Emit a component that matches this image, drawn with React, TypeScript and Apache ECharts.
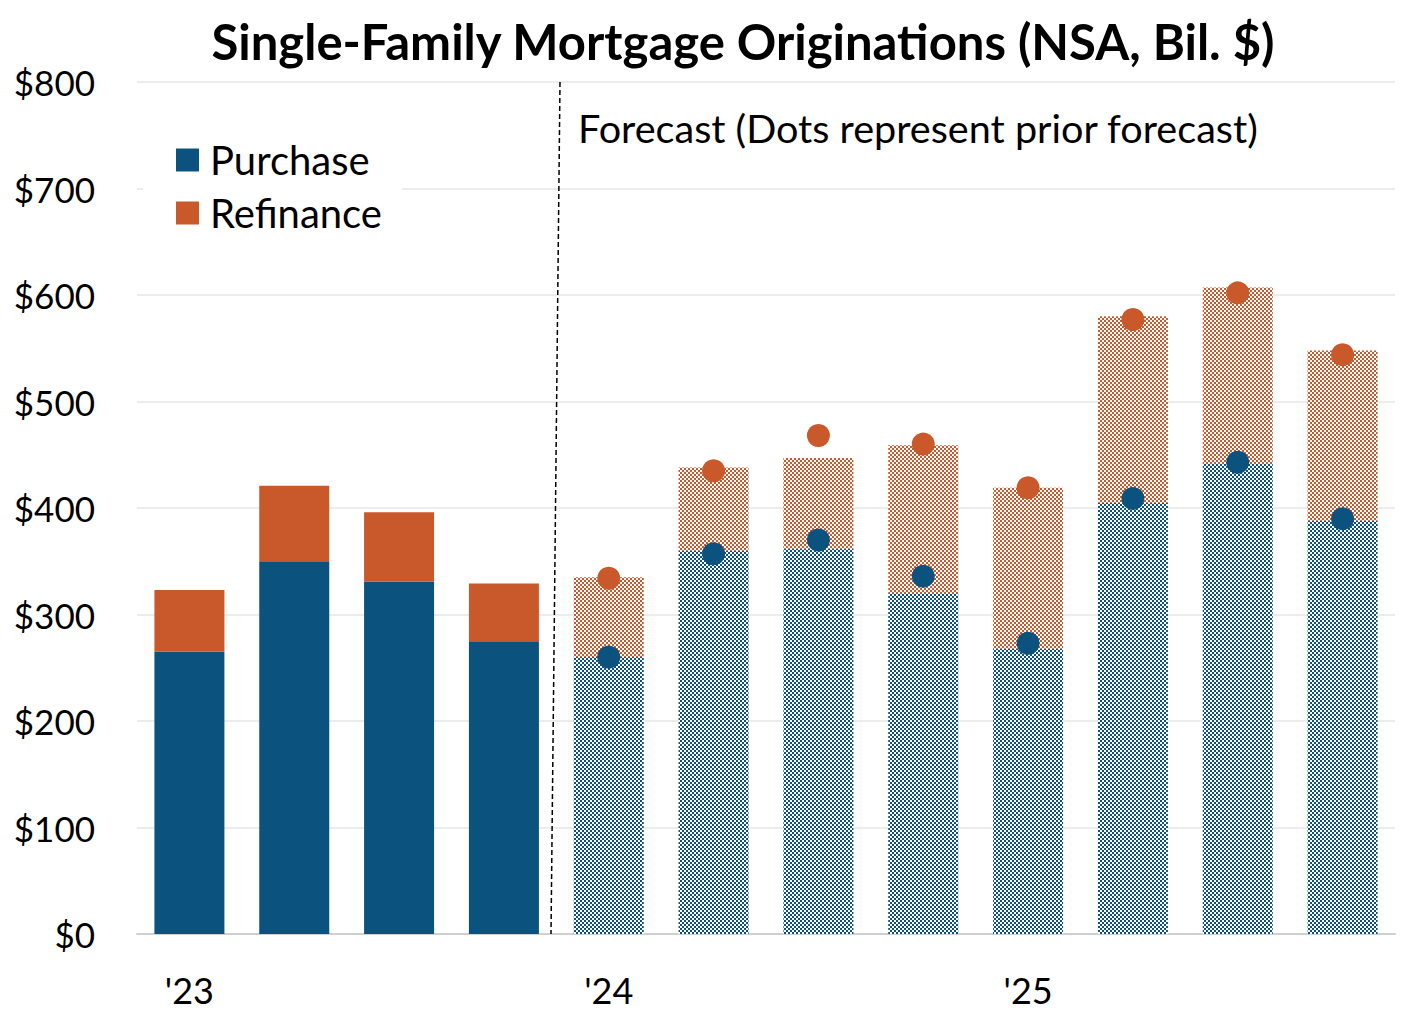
import React, { useEffect, useRef } from "react";
import * as echarts from "echarts";

const categories = ["Q1 23", "Q2 23", "Q3 23", "Q4 23", "Q1 24", "Q2 24", "Q3 24", "Q4 24", "Q1 25", "Q2 25", "Q3 25", "Q4 25"];
const xTickLabels = ["'23", "", "", "", "'24", "", "", "", "'25", "", "", ""];
const purchase = [265, 350, 331, 275, 260, 360, 362, 320, 268, 405, 442, 388];
const refinance = [58, 71, 65, 54, 75, 78, 85, 139, 151, 175, 165, 160];
const forecastStart = 4;
const priorPurchase = [null, null, null, null, 260, 357, 370, 336, 273, 409, 443, 390];
const priorTotal = [null, null, null, null, 334, 435, 468, 460, 419, 577, 602, 544];
const yTicks = [0, 100, 200, 300, 400, 500, 600, 700, 800];

const BLUE = "#0B527E";
const ORANGE = "#C9582A";
const FONT = "Lato";

function makePattern(color: string): string {
  const c = document.createElement("canvas");
  c.width = 4;
  c.height = 4;
  const ctx = c.getContext("2d")!;
  ctx.fillStyle = "#ffffff";
  ctx.fillRect(0, 0, 4, 4);
  ctx.fillStyle = color;
  ctx.fillRect(0, 0, 2, 2);
  ctx.fillRect(2, 2, 2, 2);
  return c.toDataURL();
}

export default function App() {
  const ref = useRef<HTMLDivElement>(null);
  useEffect(() => {
    if (!ref.current) return;
    const chart = echarts.init(ref.current, undefined, { renderer: "svg" });
    const bluePat = { image: makePattern(BLUE), repeat: "repeat" } as any;
    const orangePat = { image: makePattern(ORANGE), repeat: "repeat" } as any;
    const mk = (arr: number[], pat: any) =>
      arr.map((v, i) => (i >= forecastStart ? { value: v, itemStyle: { color: pat } } : v));
    const option: any = {
      animation: false,
      grid: { left: 137, right: 24, top: 82, bottom: 93 },
      graphic: [
        {
          type: "text",
          x: 743,
          y: 41,
          style: {
            text: "Single-Family Mortgage Originations (NSA, Bil. $)",
            font: `bold 49px ${FONT}`,
            fill: "#000",
            align: "center",
            verticalAlign: "middle",
          },
        },
        {
          type: "text",
          x: 578,
          y: 127,
          style: {
            text: "Forecast (Dots represent prior forecast)",
            font: `39.6px ${FONT}`,
            fill: "#000",
            align: "left",
            verticalAlign: "middle",
          },
        },
        {
          type: "line",
          shape: { x1: 560, y1: 82, x2: 551, y2: 934 },
          style: { stroke: "#000", lineWidth: 1.5, lineDash: [5, 3] },
          z: 10,
        },
      ],
      legend: {
        orient: "vertical",
        left: 143,
        top: 136,
        data: ["Purchase", "Refinance"],
        icon: "rect",
        itemWidth: 23,
        itemHeight: 23,
        itemGap: 9,
        backgroundColor: "#fff",
        padding: [2, 20, 2, 33],
        textStyle: { fontFamily: FONT, fontSize: 40, color: "#000", lineHeight: 44, padding: [0, 0, 0, 6] },
      },
      xAxis: {
        type: "category",
        data: categories,
        axisLine: { show: true, lineStyle: { color: "#d0d0d0", width: 2 } },
        axisTick: { show: false },
        axisLabel: {
          interval: 0,
          margin: 38,
          fontFamily: FONT,
          fontSize: 36,
          color: "#000",
          formatter: (_v: string, i: number) => xTickLabels[i],
        },
      },
      yAxis: {
        type: "value",
        min: 0,
        max: 800,
        interval: 100,
        axisLine: { show: false },
        axisTick: { show: false },
        splitLine: { lineStyle: { color: "#e6e6e6", width: 1.5 } },
        axisLabel: {
          margin: 42,
          fontFamily: FONT,
          fontSize: 35,
          color: "#000",
          formatter: (v: number) => (yTicks.includes(v) ? "$" + v : ""),
        },
      },
      series: [
        {
          name: "Purchase",
          type: "bar",
          stack: "total",
          barWidth: 70,
          itemStyle: { color: BLUE },
          data: mk(purchase, bluePat),
        },
        {
          name: "Refinance",
          type: "bar",
          stack: "total",
          barWidth: 70,
          itemStyle: { color: ORANGE },
          data: mk(refinance, orangePat),
        },
        {
          name: "Prior Purchase",
          type: "scatter",
          symbol: "circle",
          symbolSize: 23,
          itemStyle: { color: BLUE, opacity: 1 },
          data: priorPurchase.map((v) => (v == null ? "-" : v)),
          z: 5,
        },
        {
          name: "Prior Total",
          type: "scatter",
          symbol: "circle",
          symbolSize: 23,
          itemStyle: { color: ORANGE, opacity: 1 },
          data: priorTotal.map((v) => (v == null ? "-" : v)),
          z: 5,
        },
      ],
    };
    chart.setOption(option);
    return () => chart.dispose();
  }, []);
  return <div ref={ref} style={{ width: 1419, height: 1027, margin: -8 }} />;
}
